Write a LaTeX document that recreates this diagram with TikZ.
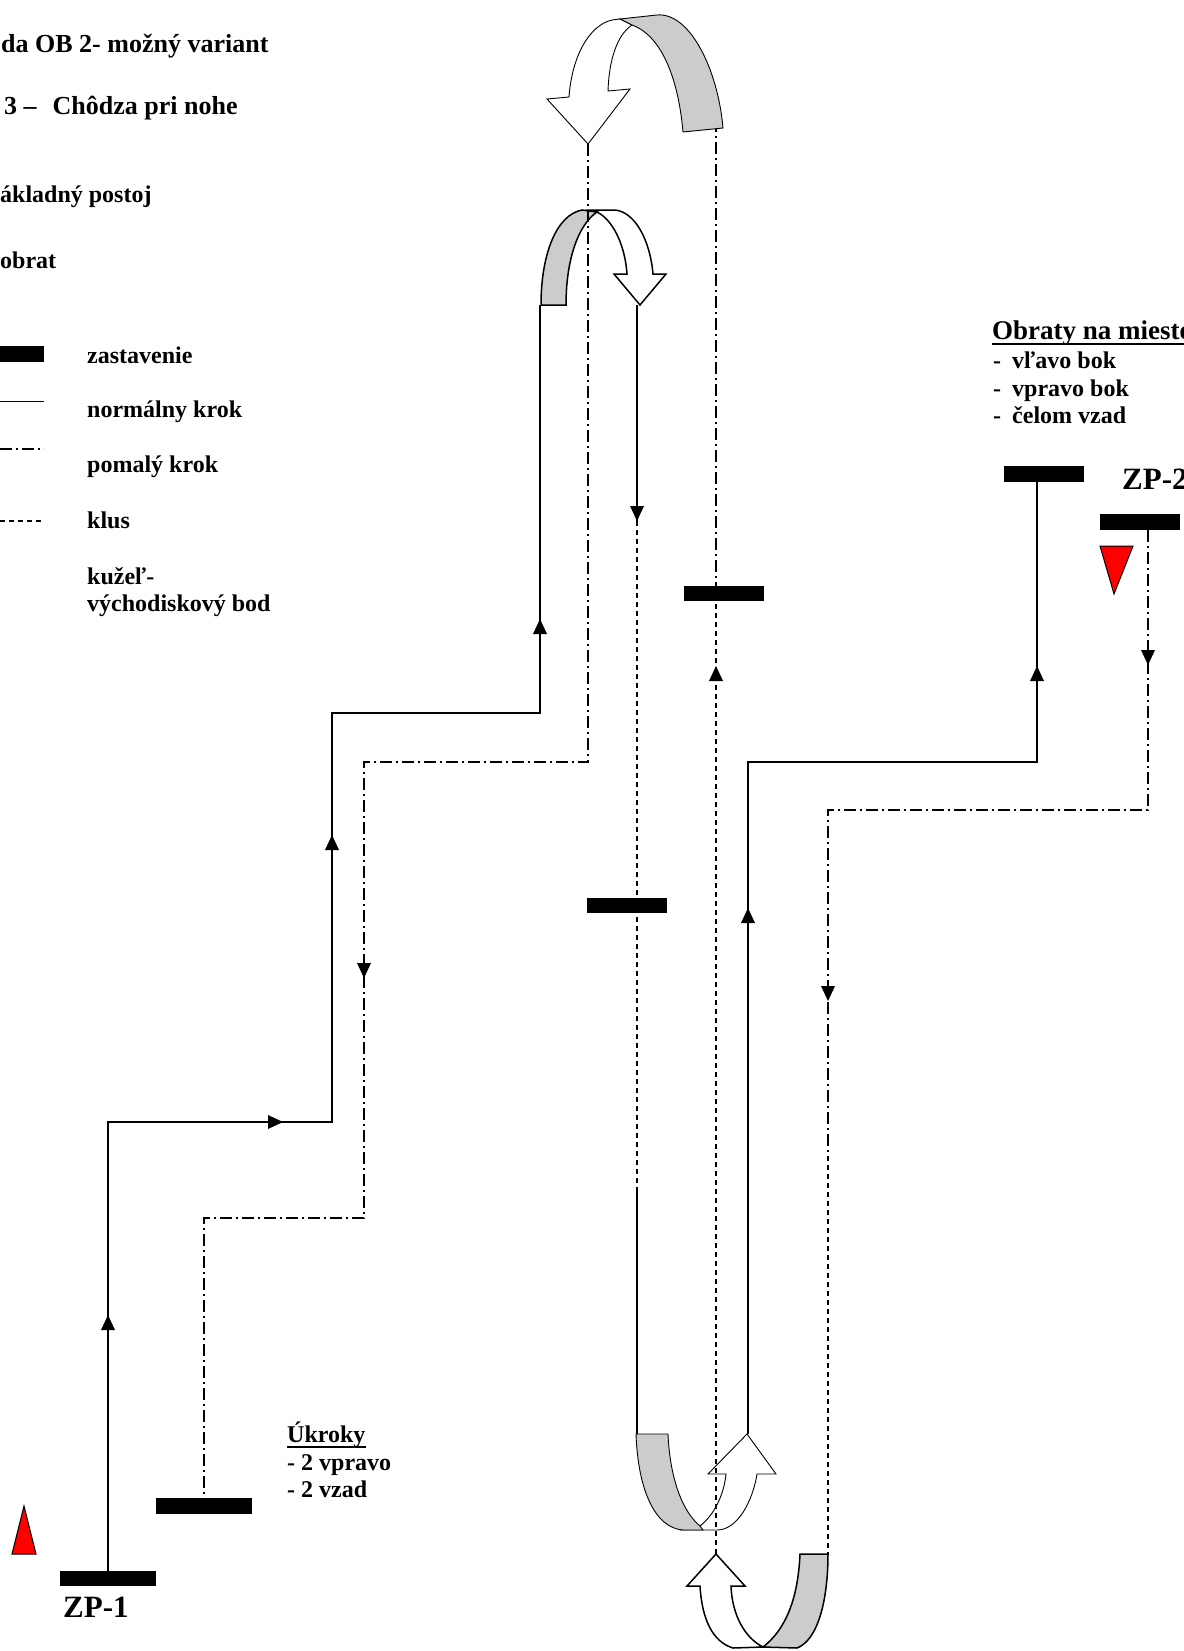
\documentclass[tikz,border=0pt]{standalone}
\usepackage{fontspec}
\setmainfont{Liberation Serif}
\tikzset{
  walk/.style={line width=1.1pt},
  slow/.style={line width=1.1pt, dash pattern=on 12pt off 4pt on 2pt off 4pt},
  trot/.style={line width=1.1pt, dash pattern=on 5pt off 4pt},
  stopbar/.style={fill=black},
  lbl/.style={anchor=base west, inner sep=0pt, font=\bfseries\fontsize{24}{28}\selectfont},
  ttl/.style={anchor=base west, inner sep=0pt, font=\bfseries\fontsize{26}{30}\selectfont},
  zp/.style={anchor=base west, inner sep=0pt, font=\bfseries\fontsize{31}{36}\selectfont},
  ribthin/.style={draw=black, line width=0.9pt},
  ribthick/.style={draw=black, line width=1.5pt},
  cone/.style={fill=red, draw=black, line width=1pt},
}
\definecolor{band}{gray}{0.8}
\newcommand{\arrUp}[2]{\fill (#1,#2) -- ({#1-7},{#2+15}) -- ({#1+7},{#2+15}) -- cycle;}
\newcommand{\arrDn}[2]{\fill (#1,#2) -- ({#1-7},{#2-15}) -- ({#1+7},{#2-15}) -- cycle;}
\newcommand{\arrRt}[2]{\fill (#1,#2) -- ({#1-15},{#2-7}) -- ({#1-15},{#2+7}) -- cycle;}
\begin{document}
\begin{tikzpicture}[x=1pt,y=-1pt]
\useasboundingbox (0,0) rectangle (1183,1651);
\fill[white] (0,0) rectangle (1183,1651);

% ---------- headings and legend ----------
\node[ttl] (t1) at (1,53) {da OB 2- možný variant};
\node[ttl] (t2) at (4,114) {3 –\hspace{16pt}Chôdza pri nohe};
\node[lbl] (t3) at (0,202) {ákladný postoj};
\node[lbl] (t4) at (0,268) {obrat};

\fill[stopbar] (0,346) rectangle (44,362);
\node[lbl] (l1) at (87,363) {zastavenie};
\coordinate (ls1) at (0,401); \coordinate (ls2) at (44,401);
\draw[line width=1pt] (ls1) -- (ls2);
\node[lbl] (l2) at (87,417) {normálny krok};
\coordinate (ld1) at (0,449); \coordinate (ld2) at (44,449);
\draw[slow] (ld1) -- (ld2);
\node[lbl] (l3) at (87,472) {pomalý krok};
\coordinate (lt1) at (0,521); \coordinate (lt2) at (44,521);
\draw[trot] (lt1) -- (lt2);
\node[lbl] (l4) at (87,528) {klus};
\node[lbl] (l5) at (87,584) {kužeľ-};
\node[lbl] (l6) at (87,611) {východiskový bod};

% ---------- top U-turn arrow (large) ----------
\filldraw[ribthin, fill=white] (612,20) .. controls (590,25) and (572,55) .. (569,97)
  -- (547,99) -- (588,144) -- (630,89) -- (608,91)
  .. controls (609,60) and (617,35) .. (632,25) -- (620,19) -- cycle;
\filldraw[ribthin, fill=band] (620,19) -- (657,15) .. controls (690,12) and (718,70) .. (723,128)
  -- (683,132) .. controls (678,75) and (660,35) .. (632,25) -- cycle;

% ---------- second top U-turn arrow ----------
\filldraw[ribthick, fill=white] (590,210) -- (615,210) .. controls (635,212) and (650,240) .. (653,274)
  -- (666,274) -- (640,305) -- (614,274) -- (627,274)
  .. controls (625,245) and (613,220) .. (597,212) -- cycle;
\filldraw[ribthick, fill=band] (541,305) .. controls (541,255) and (556,215) .. (582,210)
  -- (597,212) .. controls (578,225) and (566,260) .. (566,305) -- cycle;

% ---------- bottom-left U-turn arrow ----------
\filldraw[ribthin, fill=white] (683,1530) -- (717,1530) .. controls (738,1530) and (753,1500) .. (757,1474)
  -- (776,1474) -- (747,1434) -- (708,1474) -- (726,1474)
  .. controls (724,1495) and (714,1515) .. (700,1526) -- cycle;
\filldraw[ribthin, fill=band] (636,1434) -- (668,1434) .. controls (670,1480) and (683,1512) .. (700,1526)
  -- (703,1530) -- (683,1530) .. controls (655,1528) and (638,1490) .. (636,1434) -- cycle;

% ---------- bottom-right U-turn arrow ----------
\filldraw[ribthick, fill=white] (733,1648) .. controls (713,1642) and (702,1620) .. (700,1586)
  -- (687,1586) -- (716,1554) -- (745,1586) -- (731,1586)
  .. controls (732,1615) and (745,1638) .. (763,1647) -- cycle;
\filldraw[ribthick, fill=band] (800,1554) -- (828,1554) .. controls (828,1600) and (818,1640) .. (797,1648)
  -- (763,1647) .. controls (785,1630) and (798,1600) .. (800,1554) -- cycle;

% ---------- path coordinates ----------
\coordinate (a0) at (108,1571);
\coordinate (a1) at (108,1122);
\coordinate (a2) at (332,1122);
\coordinate (a3) at (332,713);
\coordinate (a4) at (540,713);
\coordinate (a5) at (540,305);

\coordinate (b0) at (588,144);
\coordinate (b1) at (588,762);
\coordinate (b2) at (364,762);
\coordinate (b3) at (364,1218);
\coordinate (b4) at (204,1218);
\coordinate (b5) at (204,1498);

\coordinate (c0) at (637,305);
\coordinate (c1) at (637,521);
\coordinate (c2) at (637,1190);
\coordinate (c3) at (637,1434);

\coordinate (d0) at (748,1434);
\coordinate (d1) at (748,762);
\coordinate (d2) at (1037,762);
\coordinate (d3) at (1037,482);

\coordinate (e0) at (1148,530);
\coordinate (e1) at (1148,810);
\coordinate (e2) at (828,810);
\coordinate (e3) at (828,1156);
\coordinate (e4) at (828,1554);

\coordinate (f0) at (716,1554);
\coordinate (f1) at (716,594);
\coordinate (f2) at (716,129);

% ---------- paths ----------
\draw[walk] (a0) -- (a1) -- (a2) -- (a3) -- (a4) -- (a5);
\draw[slow] (b0) -- (b1) -- (b2) -- (b3) -- (b4) -- (b5);
\draw[walk] (c0) -- (c1);
\draw[trot] (c1) -- (c2);
\draw[walk] (c2) -- (c3);
\draw[walk] (d0) -- (d1) -- (d2) -- (d3);
\draw[slow] (e0) -- (e1) -- (e2) -- (e3);
\draw[trot] (e3) -- (e4);
\draw[trot] (f0) -- (f1);
\draw[slow] (f1) -- (f2);

% ---------- arrowheads ----------
\arrUp{108}{1315}
\arrRt{283}{1122}
\arrUp{332}{835}
\arrUp{540}{619}
\arrDn{364}{978}
\arrDn{637}{521}
\arrUp{716}{666}
\arrUp{748}{908}
\arrUp{1037}{666}
\arrDn{1148}{665}
\arrDn{828}{1001}

% ---------- stop bars ----------
\fill[stopbar] (60,1571) rectangle (156,1586);
\fill[stopbar] (156,1498) rectangle (252,1514);
\fill[stopbar] (587,898) rectangle (667,913);
\fill[stopbar] (684,586) rectangle (764,601);
\fill[stopbar] (1004,466) rectangle (1084,482);
\fill[stopbar] (1100,514) rectangle (1180,530);

% ---------- cones ----------
\filldraw[cone] (24,1506) -- (12,1554) -- (36,1554) -- cycle;
\filldraw[cone] (1100,546) -- (1133,546) -- (1114,594) -- cycle;

% ---------- labels ----------
\node[zp] (zp1) at (63,1617) {ZP-1};
\node[zp] (zp2) at (1122,489) {ZP-2};

\node[lbl] (ukr) at (287,1442) {Úkroky};
\draw[line width=1.5pt] ([yshift=-5pt]ukr.base west) -- ([yshift=-5pt]ukr.base east);
\node[lbl] (uk1) at (287,1470) {- 2 vpravo};
\node[lbl] (uk2) at (287,1497) {- 2 vzad};

\node[anchor=base west, inner sep=0pt, font=\bfseries\fontsize{27}{32}\selectfont] (obr) at (992,339) {Obraty na mieste};
\draw[line width=2pt] ([yshift=-5pt]obr.base west) -- ([yshift=-5pt]obr.base east);
\node[lbl] (o1) at (993,368) {-\hspace{11pt}vľavo bok};
\node[lbl] (o2) at (993,396) {-\hspace{11pt}vpravo bok};
\node[lbl] (o3) at (993,423) {-\hspace{11pt}čelom vzad};
\end{tikzpicture}
\end{document}
